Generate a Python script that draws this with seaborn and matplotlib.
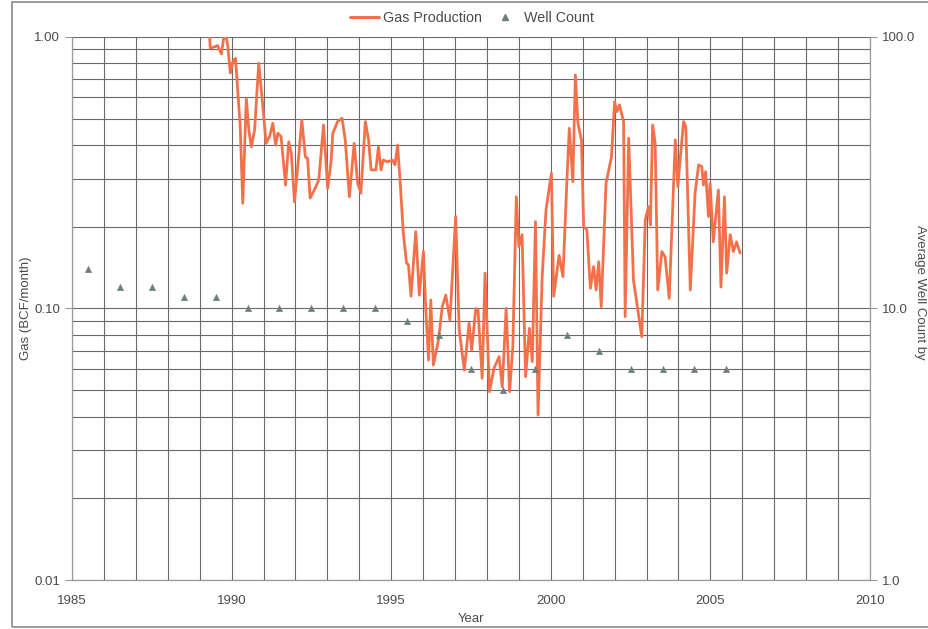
import numpy as np
import pandas as pd
import matplotlib
matplotlib.use("Agg")
import matplotlib.pyplot as plt
from matplotlib.ticker import LogLocator, FixedLocator, NullFormatter, FixedFormatter
from matplotlib.lines import Line2D
from matplotlib.patches import Rectangle
import seaborn as sns

# Monthly gas production (BCF/month)
gas_year = [
    1989.31, 1989.33, 1989.47, 1989.56, 1989.68, 1989.75, 1989.83, 1989.88, 1989.96, 1990.04,
    1990.12, 1990.17, 1990.27, 1990.35, 1990.46, 1990.54, 1990.62, 1990.72, 1990.85, 1990.98,
    1991.08, 1991.19, 1991.29, 1991.38, 1991.45, 1991.55, 1991.69, 1991.79, 1991.87, 1991.97,
    1992.10, 1992.20, 1992.31, 1992.38, 1992.46, 1992.59, 1992.73, 1992.88, 1993.01, 1993.12,
    1993.17, 1993.32, 1993.46, 1993.56, 1993.69, 1993.84, 1993.95, 1994.05, 1994.19, 1994.29,
    1994.37, 1994.52, 1994.60, 1994.68, 1994.75, 1994.88, 1995.04, 1995.12, 1995.20, 1995.27,
    1995.38, 1995.48, 1995.54, 1995.62, 1995.77, 1995.88, 1996.01, 1996.08, 1996.17, 1996.24,
    1996.32, 1996.48, 1996.60, 1996.71, 1996.84, 1997.02, 1997.13, 1997.29, 1997.44, 1997.52,
    1997.65, 1997.72, 1997.85, 1997.94, 1998.08, 1998.22, 1998.38, 1998.48, 1998.60, 1998.71,
    1998.81, 1998.92, 1999.00, 1999.10, 1999.21, 1999.33, 1999.42, 1999.52, 1999.60, 1999.73,
    1999.85, 2000.02, 2000.09, 2000.26, 2000.38, 2000.51, 2000.58, 2000.69, 2000.77, 2000.85,
    2000.96, 2001.03, 2001.13, 2001.24, 2001.34, 2001.42, 2001.50, 2001.58, 2001.73, 2001.90,
    2002.00, 2002.07, 2002.15, 2002.28, 2002.33, 2002.44, 2002.59, 2002.85, 2002.96, 2003.06,
    2003.12, 2003.19, 2003.27, 2003.35, 2003.48, 2003.58, 2003.71, 2003.90, 2003.98, 2004.05,
    2004.16, 2004.23, 2004.37, 2004.52, 2004.63, 2004.73, 2004.78, 2004.85, 2004.94, 2004.99,
    2005.09, 2005.25, 2005.33, 2005.44, 2005.51, 2005.62, 2005.72, 2005.82, 2005.93,
]
gas_bcf = [
    1.02, 0.91, 0.92, 0.93, 0.866, 0.99, 1.00, 0.93, 0.737, 0.811,
    0.835, 0.695, 0.467, 0.244, 0.594, 0.454, 0.394, 0.454, 0.80, 0.554,
    0.406, 0.430, 0.481, 0.400, 0.442, 0.430, 0.285, 0.411, 0.373, 0.247,
    0.362, 0.494, 0.362, 0.357, 0.255, 0.273, 0.297, 0.474, 0.277, 0.352,
    0.442, 0.488, 0.502, 0.418, 0.258, 0.406, 0.289, 0.266, 0.488, 0.418,
    0.324, 0.324, 0.394, 0.324, 0.352, 0.347, 0.352, 0.338, 0.400, 0.306,
    0.189, 0.147, 0.145, 0.111, 0.192, 0.112, 0.162, 0.1015, 0.0646, 0.1075,
    0.0619, 0.0766, 0.1015, 0.112, 0.0907, 0.218, 0.0833, 0.0593, 0.0882, 0.0704,
    0.100, 0.0988, 0.0553, 0.135, 0.0494, 0.0602, 0.0665, 0.0515, 0.100, 0.0494,
    0.0723, 0.258, 0.169, 0.187, 0.0561, 0.0845, 0.0637, 0.209, 0.0405, 0.131,
    0.231, 0.315, 0.111, 0.157, 0.131, 0.306, 0.461, 0.293, 0.725, 0.481,
    0.418, 0.200, 0.195, 0.1187, 0.1426, 0.117, 0.1487, 0.1015, 0.289, 0.362,
    0.578, 0.531, 0.562, 0.488, 0.0933, 0.424, 0.127, 0.0787, 0.212, 0.237,
    0.203, 0.474, 0.406, 0.117, 0.162, 0.155, 0.109, 0.418, 0.281, 0.352,
    0.488, 0.467, 0.117, 0.266, 0.338, 0.333, 0.285, 0.319, 0.218, 0.289,
    0.176, 0.273, 0.120, 0.258, 0.135, 0.187, 0.162, 0.176, 0.160,
]

# Average well count by year (plotted mid-year)
well_year = [1985.5, 1986.5, 1987.5, 1988.5, 1989.5, 1990.5, 1991.5, 1992.5, 1993.5,
             1994.5, 1995.5, 1996.5, 1997.5, 1998.5, 1999.5, 2000.5, 2001.5, 2002.5,
             2003.5, 2004.5, 2005.5]
well_count = [14, 12, 12, 11, 11, 10, 10, 10, 10, 10, 9, 8, 6, 5, 6, 8, 7, 6, 6, 6, 6]

x_ticks = [1985, 1990, 1995, 2000, 2005, 2010]
left_ticks = [0.01, 0.10, 1.00]
left_labels = ["0.01", "0.10", "1.00"]
right_ticks = [1.0, 10.0, 100.0]
right_labels = ["1.0", "10.0", "100.0"]

GAS_COLOR = "#F2714A"
WELL_COLOR = "#6F7F7B"
GRID_COLOR = "#6a6a6a"
TEXT_COLOR = "#4a4a4a"

sns.set_theme(style="white")
plt.rcParams["font.family"] = ["Liberation Sans", "DejaVu Sans"]

gas_df = pd.DataFrame({"year": gas_year, "gas": gas_bcf})
well_df = pd.DataFrame({"year": well_year, "wells": well_count})

fig = plt.figure(figsize=(9.29, 6.29), dpi=100)
ax = fig.add_axes([0.0775, 0.0779, 0.859, 0.8633])

ax.set_xlim(1985, 2010)
ax.set_yscale("log")
ax.set_ylim(0.01, 1.0)

# Grid: every year vertically, every log subdivision horizontally
ax.set_xticks(x_ticks)
ax.xaxis.set_minor_locator(FixedLocator(np.arange(1985, 2011, 1)))
ax.yaxis.set_major_locator(FixedLocator(left_ticks))
ax.yaxis.set_major_formatter(FixedFormatter(left_labels))
ax.yaxis.set_minor_locator(LogLocator(base=10, subs=np.arange(2, 10)))
ax.yaxis.set_minor_formatter(NullFormatter())
ax.grid(True, which="both", color=GRID_COLOR, linewidth=0.8)
ax.set_axisbelow(True)

sns.lineplot(data=gas_df, x="year", y="gas", ax=ax, color=GAS_COLOR,
             linewidth=2.0, estimator=None, sort=False, legend=False, zorder=3)

for s in ["top", "right"]:
    ax.spines[s].set_visible(False)
for s in ["left", "bottom"]:
    ax.spines[s].set_color("#9a9a9a")
    ax.spines[s].set_linewidth(0.9)

ax.tick_params(axis="both", which="major", labelsize=9.5, labelcolor=TEXT_COLOR,
               color="#9a9a9a", length=5, width=0.8)
ax.tick_params(axis="both", which="minor", length=0)
ax.tick_params(axis="x", pad=6)
ax.set_xticklabels([str(t) for t in x_ticks])
ax.set_xlabel("Year", fontsize=9.5, color=TEXT_COLOR, labelpad=4)
ax.set_ylabel("Gas (BCF/month)", fontsize=9.5, color=TEXT_COLOR, labelpad=2)

# Secondary axis: well count
ax2 = ax.twinx()
ax2.set_yscale("log")
ax2.set_ylim(1.0, 100.0)
sns.scatterplot(data=well_df, x="year", y="wells", ax=ax2, marker="^", s=22,
                color=WELL_COLOR, edgecolor=WELL_COLOR, linewidth=0.3, legend=False, zorder=4)
ax2.set_xlim(1985, 2010)
ax2.yaxis.set_major_locator(FixedLocator(right_ticks))
ax2.yaxis.set_major_formatter(FixedFormatter(right_labels))
ax2.yaxis.set_minor_locator(FixedLocator([]))
ax2.yaxis.set_minor_formatter(NullFormatter())
ax2.grid(False)
for s in ["top", "left", "bottom"]:
    ax2.spines[s].set_visible(False)
ax2.spines["right"].set_color("#9a9a9a")
ax2.spines["right"].set_linewidth(0.9)
ax2.tick_params(axis="y", which="major", labelsize=9.5, labelcolor=TEXT_COLOR,
                color="#9a9a9a", length=5, width=0.8)
ax2.set_ylabel("")
ax2.set_xlabel("")

fig.text(0.99, 0.535, "Average Well Count by", rotation=270, fontsize=9.5,
         color=TEXT_COLOR, ha="center", va="center")

handles = [
    Line2D([0], [0], color=GAS_COLOR, linewidth=2.2),
    Line2D([0], [0], color=WELL_COLOR, marker="^", linestyle="none", markersize=5),
]
fig.legend(handles, ["Gas Production", "Well Count"], loc="center",
           bbox_to_anchor=(0.508, 0.971), ncol=2, frameon=False, fontsize=10.3,
           handlelength=2.0, columnspacing=0.6, handletextpad=0.3,
           labelcolor=TEXT_COLOR)

# Page frame
fig.patches.append(Rectangle((12 / 929, 2 / 629), 1.0, 625 / 629, transform=fig.transFigure,
                             fill=False, edgecolor="#8a8a8a", linewidth=1.2))

fig.savefig("out.png", dpi=100, facecolor="white")
